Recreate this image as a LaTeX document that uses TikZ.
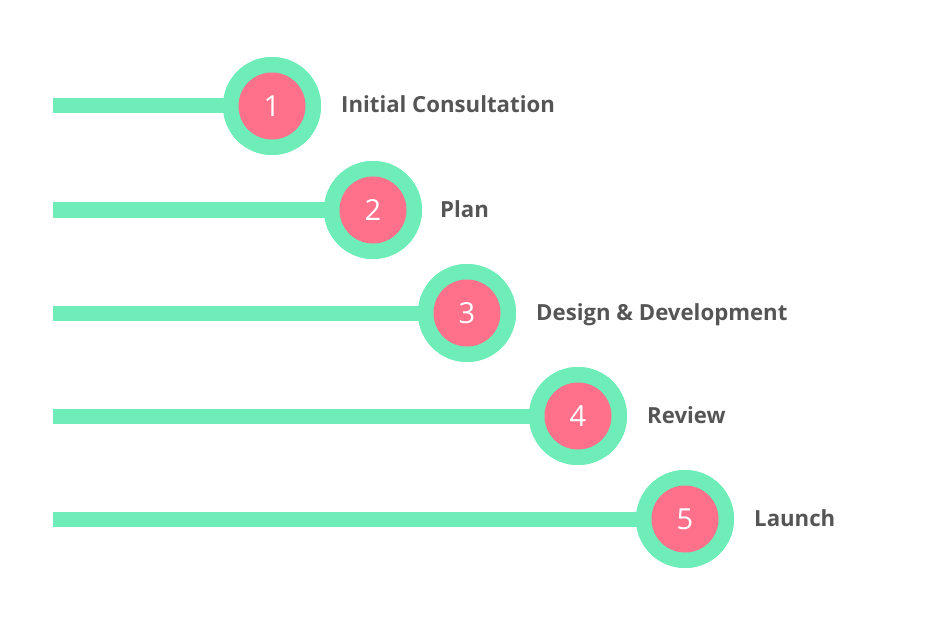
\documentclass[tikz,border=0pt]{standalone}
\usepackage{fontspec}
\setmainfont{Open Sans}
\definecolor{mint}{RGB}{110,237,185}
\definecolor{pinkc}{RGB}{255,112,138}
\definecolor{labelgray}{RGB}{85,85,85}
\begin{document}
\begin{tikzpicture}[x=1pt,y=1pt,
  bar/.style={draw=mint,line width=15pt},
  outerc/.style={circle,fill=mint,minimum size=98pt,inner sep=0pt},
  innerc/.style={circle,fill=pinkc,minimum size=67pt,inner sep=0pt,text=white,font=\fontsize{29}{29}\selectfont},
  lbl/.style={anchor=base west,text=labelgray,font=\bfseries\fontsize{22.2}{22.2}\selectfont,inner sep=0pt}]
\useasboundingbox (0,0) rectangle (939,625);
\foreach \i/\x/\y/\dx/\t in {1/272/106/69/Initial Consultation,2/373/210/67/Plan,3/467/313/69/Design \& Development,4/578/416/69/Review,5/685/519/69/Launch}{
  \coordinate (s\i) at (53,625-\y);
  \node[outerc] (o\i) at (\x,625-\y) {};
  \draw[bar] (s\i) -- (o\i.center);
  \node[outerc] at (o\i) {};
  \node[innerc] (n\i) at (o\i) {\i};
  \node[lbl] (l\i) at ([xshift=\dx pt,yshift=-7pt]o\i.center) {\t};
}
\end{tikzpicture}
\end{document}
